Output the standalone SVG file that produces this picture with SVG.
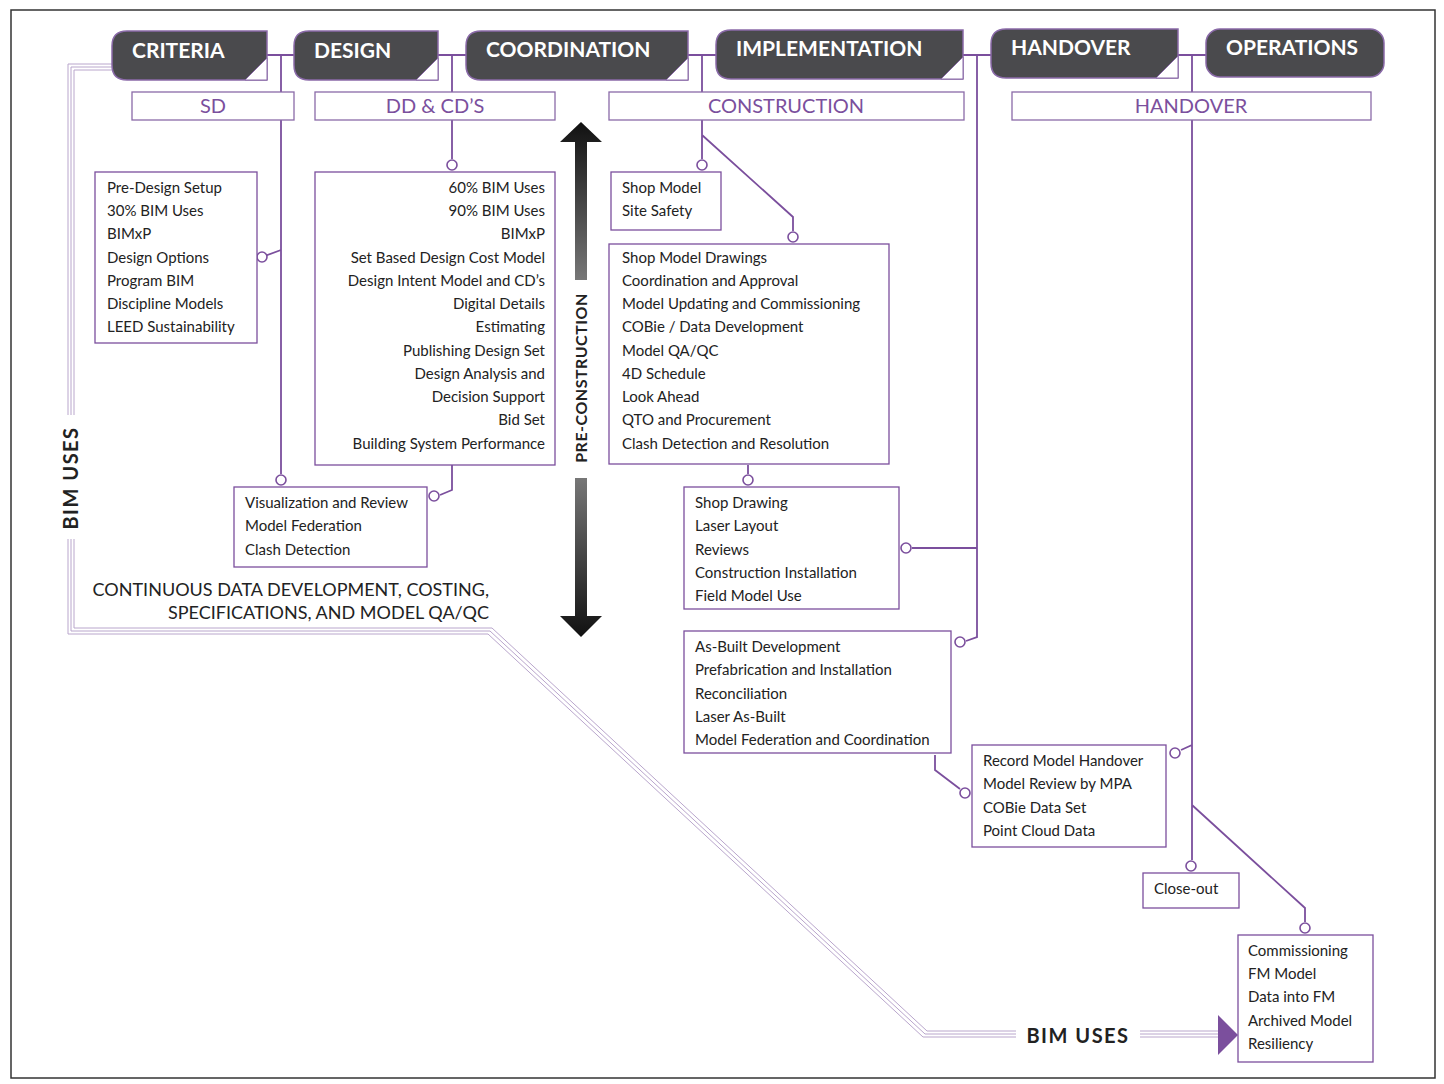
<svg xmlns="http://www.w3.org/2000/svg" width="1444" height="1084" viewBox="0 0 1444 1084">
<defs>
<style>
.tab{fill:#4a4a4d;stroke:#8a6aa8;stroke-width:1.5}
.tt{font-family:Lato,"Liberation Sans",sans-serif;font-weight:bold;font-size:21px;fill:#fff}
.ph{fill:#fff;stroke:#8a6aa8;stroke-width:1.3}
.pt{font-family:Lato,"Noto Sans",sans-serif;font-size:20px;fill:#7b4f9d;text-anchor:middle}
.bx{fill:#fff;stroke:#7b4f9d;stroke-width:1.3}
.t{font-family:Lato,"Noto Sans",sans-serif;font-size:15px;fill:#222}
.r{text-anchor:end}
.c{fill:none;stroke:#7b4f9d;stroke-width:1.8}
.dot{fill:#fff;stroke:#7b4f9d;stroke-width:1.6}
.bu{fill:none;stroke:#b9a6cc;stroke-width:1}
.fold{fill:#fff;stroke:#8a6aa8;stroke-width:1}
</style>
<linearGradient id="gu" x1="0" y1="0" x2="0" y2="1"><stop offset="0" stop-color="#111"/><stop offset="1" stop-color="#777"/></linearGradient>
<linearGradient id="gd" x1="0" y1="0" x2="0" y2="1"><stop offset="0" stop-color="#777"/><stop offset="1" stop-color="#111"/></linearGradient>
</defs>
<rect x="11" y="10" width="1424" height="1068" fill="#fff" stroke="#333" stroke-width="1.5"/>

<g id="connectors">
<path class="c" d="M267 55H294M438 55H466M688 55H716M963 55H991M1178 55H1206"/>
<path class="c" d="M281 55V474M262 257L281 250"/>
<path class="c" d="M452 55V159M452 465V490L440 495"/>
<path class="c" d="M702 55V159M702 135L793 217V231M748 465V474"/>
<path class="c" d="M977 55V637L966 641M977 548H912"/>
<path class="c" d="M935 755V770L960 789"/>
<path class="c" d="M1192 55V860M1192 745L1181 750M1192 805L1305 908V922"/>
<circle class="dot" cx="281" cy="480" r="5"/>
<circle class="dot" cx="262" cy="257" r="5"/>
<circle class="dot" cx="452" cy="165" r="5"/>
<circle class="dot" cx="434" cy="496" r="5"/>
<circle class="dot" cx="702" cy="165" r="5"/>
<circle class="dot" cx="793" cy="237" r="5"/>
<circle class="dot" cx="748" cy="480" r="5"/>
<circle class="dot" cx="906" cy="548" r="5"/>
<circle class="dot" cx="960" cy="642" r="5"/>
<circle class="dot" cx="965" cy="793" r="5"/>
<circle class="dot" cx="1175" cy="753" r="5"/>
<circle class="dot" cx="1191" cy="866" r="5"/>
<circle class="dot" cx="1305" cy="928" r="5"/>
<!-- BIM uses triple line -->
<path class="bu" d="M112 64H68V634H488L923 1037H1016M114 67H71V631H490L925 1034H1016M116 70H74V628H492L927 1031H1016"/>
<path class="bu" d="M1140 1031H1218M1140 1034H1218M1140 1037H1218"/>
<polygon points="1218,1015 1238,1035 1218,1055" fill="#7b4f9d"/>
</g>
<rect x="56" y="415" width="30" height="124" fill="#fff"/>
<text x="78" y="478" transform="rotate(-90 78 478)" text-anchor="middle" font-family="Lato,'Liberation Sans',sans-serif" font-weight="bold" font-size="20" letter-spacing="1.5" fill="#222">BIM USES</text>
<text x="1078" y="1043" text-anchor="middle" font-family="Lato,'Liberation Sans',sans-serif" font-weight="bold" font-size="20" letter-spacing="1.5" fill="#222">BIM USES</text>

<g id="tab-criteria"><path class="tab" d="M127 31H267V80H127Q112 80 112 65V46Q112 31 127 31Z"/><path class="fold" d="M267 58L245 80H267Z"/><text class="tt" x="132" y="58">CRITERIA</text></g>
<g id="tab-design"><path class="tab" d="M309 31H438V80H309Q294 80 294 65V46Q294 31 309 31Z"/><path class="fold" d="M438 58L416 80H438Z"/><text class="tt" x="314" y="58">DESIGN</text></g>
<g id="tab-coordination"><path class="tab" d="M481 31H688V80H481Q466 80 466 65V46Q466 31 481 31Z"/><path class="fold" d="M688 58L666 80H688Z"/><text class="tt" x="486" y="57">COORDINATION</text></g>
<g id="tab-implementation"><path class="tab" d="M731 30H963V79H731Q716 79 716 64V45Q716 30 731 30Z"/><path class="fold" d="M963 57L941 79H963Z"/><text class="tt" x="736" y="56">IMPLEMENTATION</text></g>
<g id="tab-handover"><path class="tab" d="M1006 29H1178V78H1006Q991 78 991 63V44Q991 29 1006 29Z"/><path class="fold" d="M1178 56L1156 78H1178Z"/><text class="tt" x="1011" y="55">HANDOVER</text></g>
<g id="tab-operations"><rect class="tab" x="1206" y="29" width="178" height="48" rx="14"/><text class="tt" x="1226" y="55">OPERATIONS</text></g>

<g id="phase-sd"><rect class="ph" x="132" y="92" width="162" height="28"/><text class="pt" x="213" y="113">SD</text></g>
<g id="phase-dd"><rect class="ph" x="315" y="92" width="240" height="28"/><text class="pt" x="435" y="113">DD &amp; CD’S</text></g>
<g id="phase-construction"><rect class="ph" x="609" y="92" width="355" height="28"/><text class="pt" x="786" y="113">CONSTRUCTION</text></g>
<g id="phase-handover"><rect class="ph" x="1012" y="92" width="359" height="28"/><text class="pt" x="1191" y="113">HANDOVER</text></g>

<g id="sd-box"><rect class="bx" x="95" y="172" width="162" height="171"/>
<text class="t" x="107"><tspan y="193" x="107">Pre-Design Setup</tspan><tspan y="216" x="107">30% BIM Uses</tspan><tspan y="239" x="107">BIMxP</tspan><tspan y="263" x="107">Design Options</tspan><tspan y="286" x="107">Program BIM</tspan><tspan y="309" x="107">Discipline Models</tspan><tspan y="332" x="107">LEED Sustainability</tspan></text></g>

<g id="dd-box"><rect class="bx" x="315" y="172" width="240" height="293"/>
<text class="t r"><tspan y="193" x="545">60% BIM Uses</tspan><tspan y="216" x="545">90% BIM Uses</tspan><tspan y="239" x="545">BIMxP</tspan><tspan y="263" x="545">Set Based Design Cost Model</tspan><tspan y="286" x="545">Design Intent Model and CD’s</tspan><tspan y="309" x="545">Digital Details</tspan><tspan y="332" x="545">Estimating</tspan><tspan y="356" x="545">Publishing Design Set</tspan><tspan y="379" x="545">Design Analysis and</tspan><tspan y="402" x="545">Decision Support</tspan><tspan y="425" x="545">Bid Set</tspan><tspan y="449" x="545">Building System Performance</tspan></text></g>

<g id="viz-box"><rect class="bx" x="234" y="487" width="193" height="80"/>
<text class="t"><tspan y="508" x="245">Visualization and Review</tspan><tspan y="531" x="245">Model Federation</tspan><tspan y="555" x="245">Clash Detection</tspan></text></g>

<text font-family="Lato,'Noto Sans',sans-serif" font-size="18" fill="#222" text-anchor="end"><tspan x="489" y="596">CONTINUOUS DATA DEVELOPMENT, COSTING,</tspan><tspan x="489" y="619">SPECIFICATIONS, AND MODEL QA/QC</tspan></text>

<g id="preconstruction">
<polygon points="581,122 602,142 587,142 587,280 575,280 575,142 560,142" fill="url(#gu)"/>
<polygon points="575,478 587,478 587,616 602,616 581,637 560,616 575,616" fill="url(#gd)"/>
<text x="587" y="378" transform="rotate(-90 587 378)" text-anchor="middle" font-family="Lato,'Liberation Sans',sans-serif" font-weight="bold" font-size="16" letter-spacing="0.5" fill="#222">PRE-CONSTRUCTION</text>
</g>

<g id="shop-box"><rect class="bx" x="611" y="172" width="110" height="58"/>
<text class="t"><tspan y="193" x="622">Shop Model</tspan><tspan y="216" x="622">Site Safety</tspan></text></g>

<g id="construction-box"><rect class="bx" x="609" y="244" width="280" height="220"/>
<text class="t"><tspan y="263" x="622">Shop Model Drawings</tspan><tspan y="286" x="622">Coordination and Approval</tspan><tspan y="309" x="622">Model Updating and Commissioning</tspan><tspan y="332" x="622">COBie / Data Development</tspan><tspan y="356" x="622">Model QA/QC</tspan><tspan y="379" x="622">4D Schedule</tspan><tspan y="402" x="622">Look Ahead</tspan><tspan y="425" x="622">QTO and Procurement</tspan><tspan y="449" x="622">Clash Detection and Resolution</tspan></text></g>

<g id="field-box"><rect class="bx" x="684" y="487" width="215" height="122"/>
<text class="t"><tspan y="508" x="695">Shop Drawing</tspan><tspan y="531" x="695">Laser Layout</tspan><tspan y="555" x="695">Reviews</tspan><tspan y="578" x="695">Construction Installation</tspan><tspan y="601" x="695">Field Model Use</tspan></text></g>

<g id="asbuilt-box"><rect class="bx" x="684" y="631" width="267" height="122"/>
<text class="t"><tspan y="652" x="695">As-Built Development</tspan><tspan y="675" x="695">Prefabrication and Installation</tspan><tspan y="699" x="695">Reconciliation</tspan><tspan y="722" x="695">Laser As-Built</tspan><tspan y="745" x="695">Model Federation and Coordination</tspan></text></g>

<g id="record-box"><rect class="bx" x="972" y="745" width="194" height="102"/>
<text class="t"><tspan y="766" x="983">Record Model Handover</tspan><tspan y="789" x="983">Model Review by MPA</tspan><tspan y="813" x="983">COBie Data Set</tspan><tspan y="836" x="983">Point Cloud Data</tspan></text></g>

<g id="closeout-box"><rect class="bx" x="1143" y="873" width="96" height="35"/>
<text class="t" x="1154" y="894">Close-out</text></g>

<g id="operations-box"><rect class="bx" x="1238" y="935" width="135" height="127"/>
<text class="t"><tspan y="956" x="1248">Commissioning</tspan><tspan y="979" x="1248">FM Model</tspan><tspan y="1002" x="1248">Data into FM</tspan><tspan y="1026" x="1248">Archived Model</tspan><tspan y="1049" x="1248">Resiliency</tspan></text></g>
</svg>
